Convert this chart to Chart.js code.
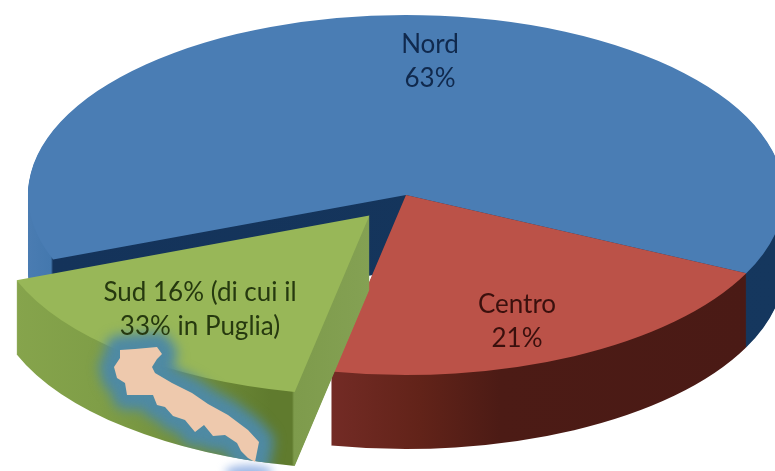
<!DOCTYPE html>
<html>
<head>
<meta charset="utf-8">
<style>
  html, body { margin: 0; padding: 0; background: #fff; overflow: hidden; }
  #wrap { width: 775px; height: 471px; }
  canvas { display: block; filter: blur(0.7px); }
</style>
<script src="https://cdn.jsdelivr.net/npm/chart.js@4/dist/chart.umd.js"></script>
</head>
<body>
<div id="wrap"><canvas id="chart" width="775" height="471"></canvas></div>
<script>
const categories = ["Nord", "Centro", "Sud"];
const shares = [63, 21, 16];
const labelLines = [["Nord", "63%"], ["Centro", "21%"], ["Sud 16% (di cui il", "33% in Puglia)"]];
const topColors = ["#4a7db4", "#bb5248", "#98b758"];

// look of the fake 3D pie, in page pixels
const CENTER = { x: 406, y: 195 };
const ELLIPSE = { a: 378, b: 180 };
const DEPTH = 74;
const RADIUS = 200;
const explode = [0, 0, 30];

const labelStyle = [
  { x: 430, y: 45, color: "#10294d" },
  { x: 517, y: 305, color: "#3a100d" },
  { x: 200, y: 293, color: "#26390f" },
];

const wallStops = [
  [[28, "#4a7cb2"], [51, "#4478ae"], [53, "#14335a"], [775, "#15375e"]],
  [[331, "#732b25"], [420, "#622319"], [500, "#4c1b15"], [750, "#4a1a15"]],
  [[14, "#86a44c"], [100, "#7f9e47"], [200, "#708d3a"], [270, "#607b2e"], [292, "#607b2e"], [294, "#7e9b4c"], [370, "#84a153"]],
];

// outline of Puglia on the Sud slice (picture decoration, not data)
const pugliaOutline = [
  [120, 350], [135, 349], [157, 347], [162, 354], [157, 359], [152, 367], [155, 373], [172, 383], [192, 393],
  [208, 404], [228, 415], [248, 430], [259, 442], [257, 452], [255, 462], [248, 458], [241, 451], [237, 443],
  [225, 435], [213, 436], [204, 425], [195, 432], [185, 420], [173, 416], [165, 407], [157, 405], [153, 395],
  [140, 395], [127, 395], [125, 383], [117, 378], [114, 367], [120, 358],
];

const sx = ELLIPSE.a / RADIUS;
const sy = ELLIPSE.b / RADIUS;

function tracePuglia(ctx) {
  ctx.beginPath();
  pugliaOutline.forEach(([x, y], i) => (i ? ctx.lineTo(x, y) : ctx.moveTo(x, y)));
  ctx.closePath();
}

const pie3d = {
  id: "pie3d",
  beforeDatasetDraw(chart) {
    const ctx = chart.ctx;
    const arcs = chart.getDatasetMeta(0).data;

    const offsetOf = (arc, i) => {
      const mid = (arc.startAngle + arc.endAngle) / 2;
      return { x: Math.cos(mid) * explode[i] * sx, y: Math.sin(mid) * explode[i] * sy };
    };

    const place = (arc, i, dy) => {
      const off = offsetOf(arc, i);
      ctx.translate(CENTER.x + off.x, CENTER.y + dy + off.y);
      ctx.scale(sx, sy);
      ctx.translate(-arc.x, -arc.y);
    };

    // pale spill under the tip of the region, sits under everything
    ctx.save();
    ctx.filter = "blur(4px)";
    ctx.fillStyle = "#9db8e6";
    ctx.beginPath();
    ctx.ellipse(249, 472, 24, 7, 0, 0, Math.PI * 2);
    ctx.fill();
    ctx.restore();

    arcs.forEach((arc, i) => {
      const saved = arc.options;
      const off = offsetOf(arc, i);
      const toChartX = (x) => arc.x + (x - CENTER.x - off.x) / sx;
      const stops = wallStops[i];
      const grad = ctx.createLinearGradient(toChartX(stops[0][0]), 0, toChartX(stops[stops.length - 1][0]), 0);
      const span = stops[stops.length - 1][0] - stops[0][0];
      stops.forEach(([x, color]) => grad.addColorStop((x - stops[0][0]) / span, color));

      arc.options = Object.assign({}, saved, { backgroundColor: grad, borderWidth: 0 });
      for (let dy = DEPTH; dy >= 1; dy--) {
        ctx.save();
        place(arc, i, dy);
        arc.draw(ctx);
        ctx.restore();
      }
      arc.options = Object.assign({}, saved, { borderWidth: 0 });
      ctx.save();
      place(arc, i, 0);
      arc.draw(ctx);
      ctx.restore();
    });

    // halo of the region stays inside the Sud slice
    const sud = offsetOf(arcs[2], 2);
    ctx.save();
    ctx.beginPath();
    ctx.ellipse(CENTER.x + sud.x, CENTER.y + sud.y + DEPTH, ELLIPSE.a, ELLIPSE.b, 0, 0, Math.PI * 2);
    ctx.clip();
    ctx.filter = "blur(6px)";
    ctx.strokeStyle = "#4f8aa3";
    ctx.fillStyle = "#4f8aa3";
    ctx.lineWidth = 30;
    ctx.lineJoin = "round";
    tracePuglia(ctx);
    ctx.stroke();
    ctx.fill();
    ctx.restore();

    ctx.save();
    ctx.fillStyle = "#eec9ad";
    tracePuglia(ctx);
    ctx.fill();
    ctx.restore();

    return false;
  },
  afterDatasetsDraw(chart) {
    const ctx = chart.ctx;
    ctx.save();
    ctx.font = "26px Lato";
    ctx.textAlign = "center";
    ctx.textBaseline = "middle";
    labelLines.forEach((lines, i) => {
      const s = labelStyle[i];
      ctx.fillStyle = s.color;
      lines.forEach((line, n) => ctx.fillText(line, s.x, s.y + n * 34));
    });
    ctx.restore();
  },
};

new Chart(document.getElementById("chart"), {
  type: "pie",
  data: {
    labels: categories,
    datasets: [{
      data: shares,
      backgroundColor: topColors,
      borderWidth: 0,
      clip: false,
    }],
  },
  options: {
    responsive: false,
    animation: false,
    events: [],
    rotation: 249,
    radius: RADIUS,
    plugins: { legend: { display: false }, tooltip: { enabled: false } },
  },
  plugins: [pie3d],
});
</script>
</body>
</html>
